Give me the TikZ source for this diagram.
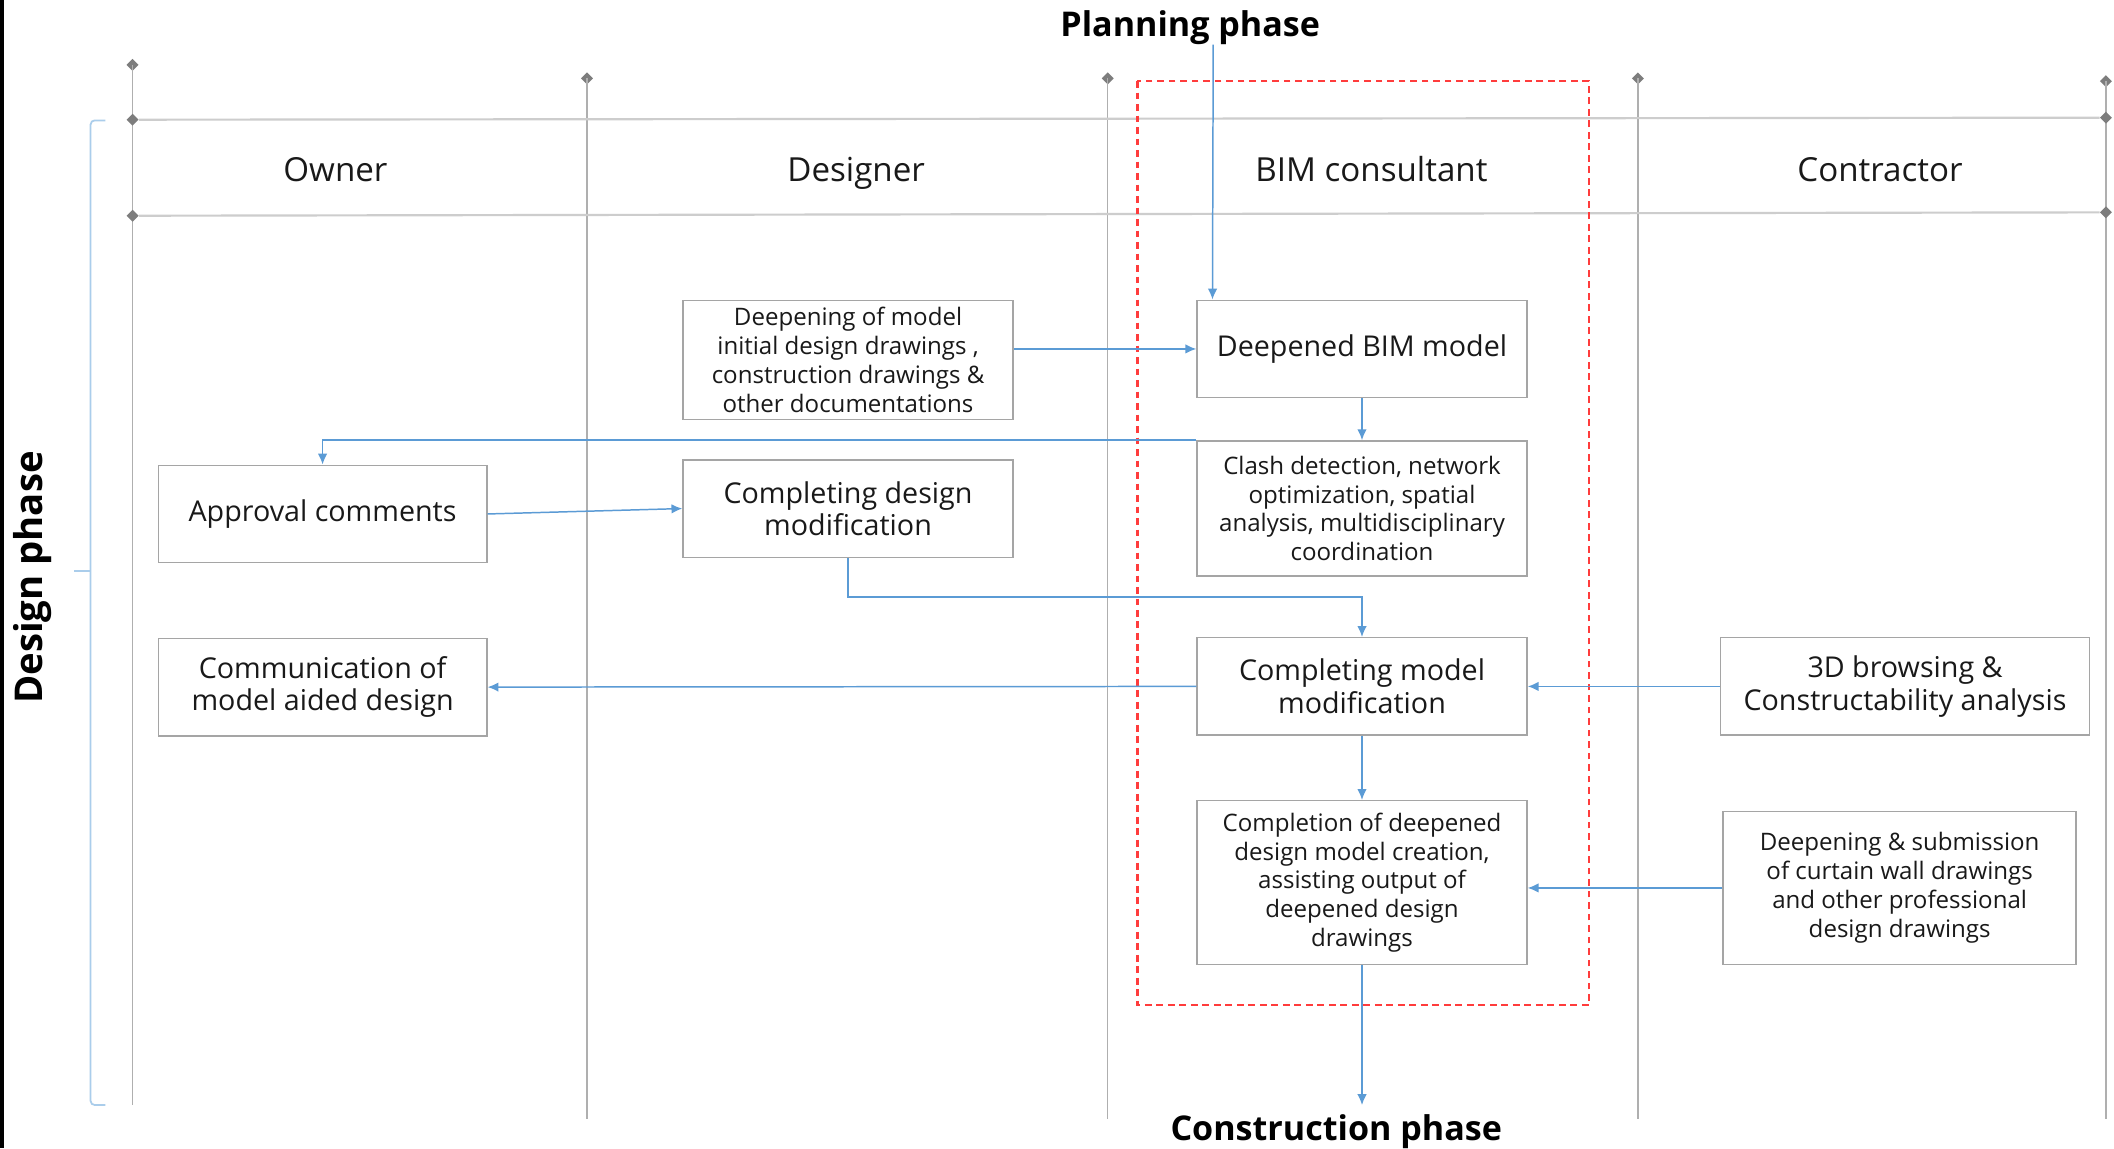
\documentclass[tikz,border=0pt]{standalone}
\usepackage{fontspec}
\setmainfont{Open Sans}
\usetikzlibrary{arrows.meta,calc,shapes.geometric}
\definecolor{lanegray}{RGB}{175,175,175}
\definecolor{hgray}{RGB}{205,205,205}
\definecolor{diagray}{RGB}{125,125,125}
\definecolor{boxgray}{RGB}{165,165,165}
\definecolor{flowblue}{RGB}{91,155,213}
\definecolor{bracketblue}{RGB}{170,205,235}
\definecolor{dashred}{RGB}{255,60,60}
\definecolor{txt}{RGB}{25,25,25}
\begin{document}
\begin{tikzpicture}[x=1pt,y=-1pt,
  lane/.style={draw=lanegray, line width=1pt},
  hline/.style={draw=hgray, line width=1.6pt},
  dia/.style={diamond, fill=diagray, inner sep=0pt, minimum size=9pt},
  box/.style={draw=boxgray, line width=1.1pt, fill=white, align=center, inner sep=2pt, text=txt},
  bigtxt/.style={font=\fontsize{21.2}{24}\selectfont},
  smalltxt/.style={font=\fontsize{17.8}{21.3}\selectfont},
  head/.style={font=\fontsize{24.5}{28}\selectfont, anchor=base, text=txt},
  title/.style={font=\bfseries\fontsize{25.2}{29}\selectfont, anchor=base},
  arr/.style={draw=flowblue, line width=1.1pt, -{Latex[length=8pt,width=7pt]}},
]
\fill[white] (0,0) rectangle (1563,849);
\useasboundingbox (0,0) rectangle (1563,849);
% left border
\draw[black, line width=2.5pt] (1.5,0) -- (1.5,849);

% lanes
\node[dia] (d1) at (98,48) {};
\node[dia] (d2) at (434,58) {};
\node[dia] (d3) at (819,58) {};
\node[dia] (d4) at (1211,58) {};
\node[dia] (d5) at (1557,60) {};
\coordinate (b1) at (98,817);
\coordinate (b2) at (434,827);
\coordinate (b3) at (819,827);
\coordinate (b4) at (1211,827);
\coordinate (b5) at (1557,827);
\foreach \i in {1,...,5} {\draw[lane] (d\i.center) -- (b\i);}

% header rows
\node[dia] (h1l) at (98,88.5) {};
\node[dia] (h1r) at (1557,87) {};
\node[dia] (h2l) at (98,159.5) {};
\node[dia] (h2r) at (1557,157) {};
\draw[hline] (h1l) -- (h1r);
\draw[hline] (h2l) -- (h2r);

\node[head] (owner) at (248,134) {Owner};
\node[head] (designer) at (633,134) {Designer};
\node[head] (bim) at (1014,134) {BIM consultant};
\node[head] (contr) at (1390,134) {Contractor};

% bracket
\coordinate (bt) at (78,89);
\coordinate (bb) at (78,817);
\coordinate (bm) at (55,422);
\draw[bracketblue, line width=1.3pt, rounded corners=3pt] (bt) -- (67,89) -- (67,817) -- (bb);
\draw[bracketblue, line width=1.3pt] (67,422) -- (bm);

% red dashed frame
\draw[dashred, line width=1.5pt, dash pattern=on 5pt off 3.5pt] (841,60) rectangle (1175,743);

% titles
\node[title] (plan) at (880,27) {Planning phase};
\node[title] (cons) at (988,843) {Construction phase};
\node[rotate=90, font=\bfseries\fontsize{28.3}{32}\selectfont] (des) at (24,427) {Design phase};

% boxes
\node[box, smalltxt, minimum width=244pt, minimum height=88pt] (A) at (627,266)
  {Deepening of model\\initial design drawings ,\\construction drawings \&\\other documentations};
\node[box, bigtxt, minimum width=244pt, minimum height=72pt] (B) at (1007,258) {Deepened BIM model};
\node[box, smalltxt, minimum width=244pt, minimum height=100pt] (C) at (1007,376)
  {Clash detection, network\\optimization, spatial\\analysis, multidisciplinary\\coordination};
\node[box, bigtxt, minimum width=243pt, minimum height=72pt] (D) at (238.5,380) {Approval comments};
\node[box, bigtxt, minimum width=244pt, minimum height=72pt] (E) at (627,376) {Completing design\\modification};
\node[box, bigtxt, minimum width=243pt, minimum height=72pt] (F) at (238.5,508) {Communication of\\model aided design};
\node[box, bigtxt, minimum width=244pt, minimum height=72pt] (G) at (1007,507.5) {Completing model\\modification};
\node[box, bigtxt, minimum width=273pt, minimum height=72pt] (H) at (1408.5,507.5) {3D browsing \&\\Constructability analysis};
\node[box, smalltxt, minimum width=244pt, minimum height=121pt] (I) at (1007,652.5)
  {Completion of deepened\\design model creation,\\assisting output of\\deepened design\\drawings};
\node[box, smalltxt, minimum width=261pt, minimum height=113pt] (J) at (1404.5,656.5)
  {Deepening \& submission\\of curtain wall drawings\\and other professional\\design drawings};

% connectors
\coordinate (bx) at ([xshift=12pt]B.north west);
\coordinate (pl) at (897,33);
\draw[arr] (pl) -- (bx);
\draw[arr] (A.east |- B.west) -- (B.west);
\draw[arr] (B.south) -- (C.north);
\draw[arr] (C.north west) -| (D.north);
\draw[arr] (D.east) -- (E.west);
\draw[arr] (E.south) -- ++(0,29) -| (G.north);
\draw[arr] (G.west) -- (F.east);
\draw[arr] (H.west) -- (G.east);
\draw[arr] (G.south) -- (I.north);
\draw[arr] (J.west) -- (J.west -| I.east);
\coordinate (ce) at (1007,817);
\draw[arr] (I.south) -- (ce);
\end{tikzpicture}
\end{document}
